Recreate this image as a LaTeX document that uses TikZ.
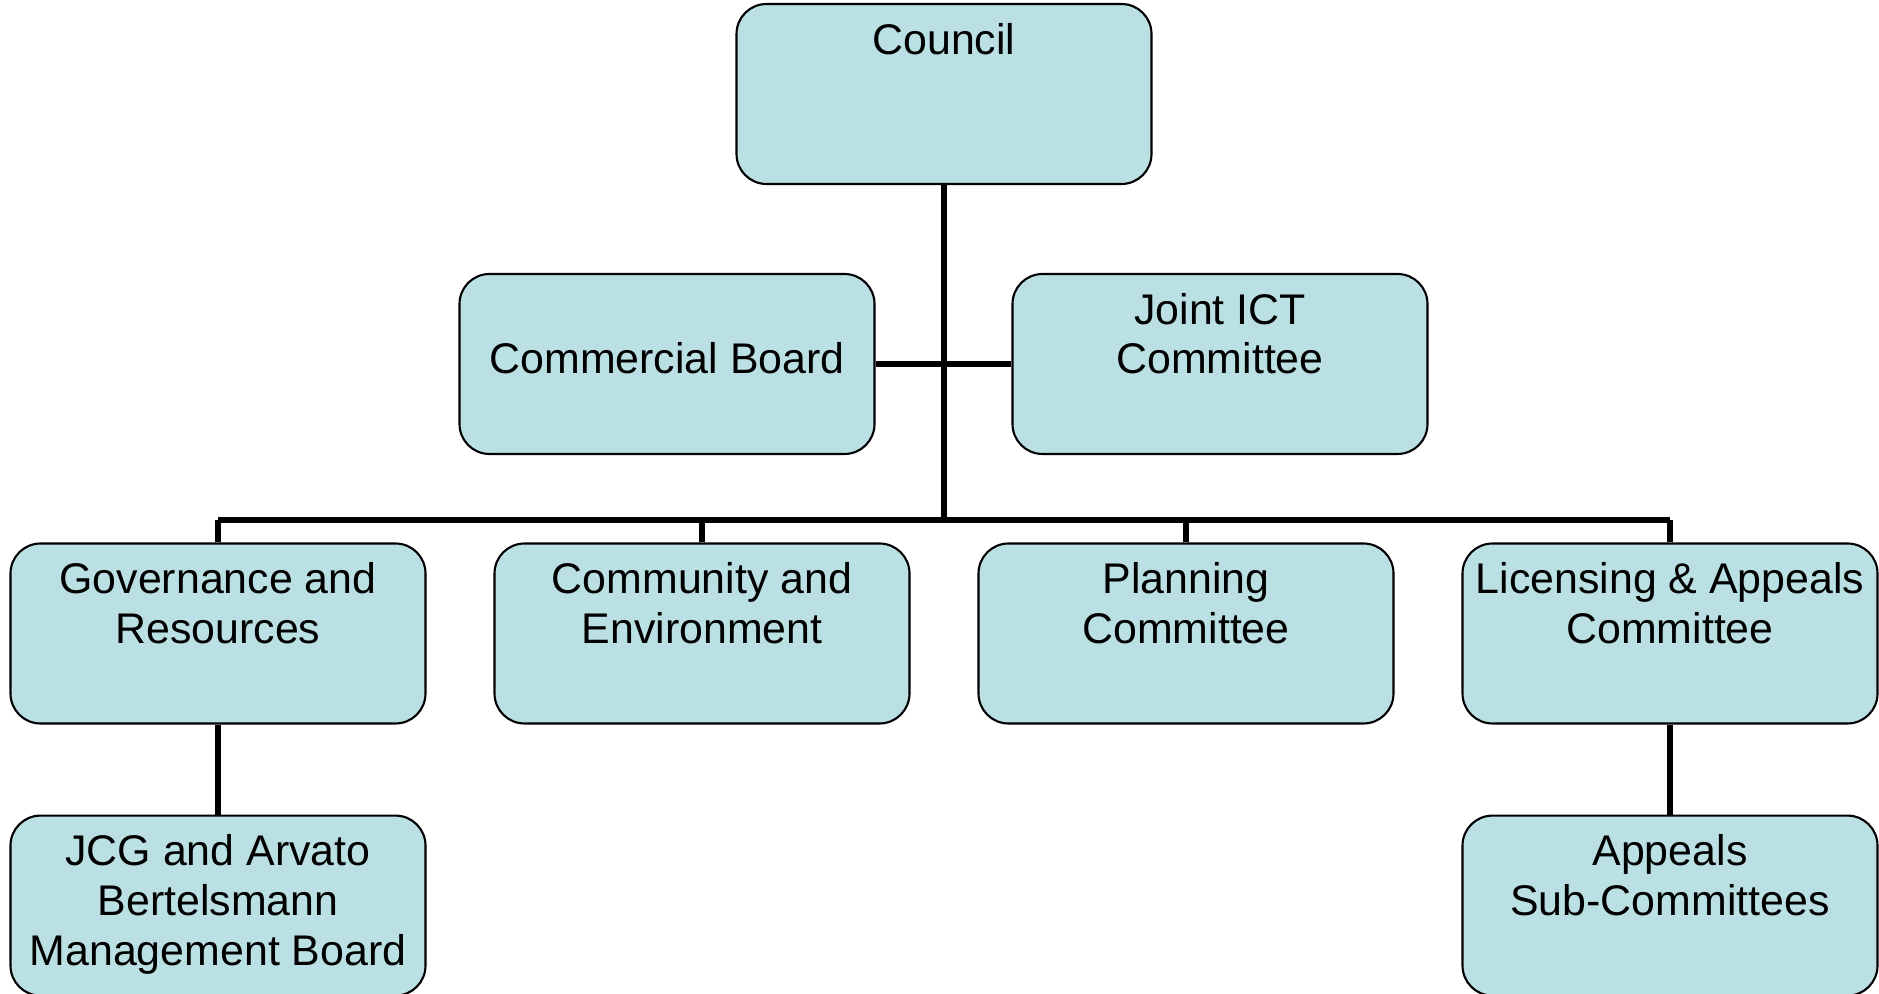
\documentclass[tikz,border=0pt]{standalone}
\usepackage{fontspec}
\setmainfont{Liberation Sans}
\usepackage{tikz}
\usetikzlibrary{positioning}
\usepackage{xcolor}

\definecolor{boxfill}{RGB}{187,224,227}
\newcommand{\toptext}[1]{\parbox[c][1.8cm][t]{4.15cm}{\centering\vspace*{0.19cm}#1}}

\tikzset{
  orgbox/.style={draw, line width=0.6pt, rounded corners=0.3cm, fill=boxfill,
    minimum width=4.15cm, minimum height=1.8cm, inner sep=0pt, align=center,
    font=\fontsize{12.2}{14.2}\selectfont},
  link/.style={line width=1.5pt}
}

\begin{document}
\begin{tikzpicture}[node distance=0.9cm]
  \useasboundingbox (0,0) rectangle (18.79,-9.94);
  % top of the tree
  \node (council) [orgbox] at (9.44,-0.94) {\toptext{Council}};
  \node (commercial) [orgbox] at (6.67,-3.64) {\raisebox{0.12cm}{Commercial Board}};
  \node (jointict) [orgbox] at (12.20,-3.64) {\toptext{Joint ICT\\Committee}};
  % committees
  \node (gov) [orgbox] at (2.18,-6.335) {\toptext{Governance and\\Resources}};
  \node (comm) [orgbox] at (7.02,-6.335) {\toptext{Community and\\Environment}};
  \node (plan) [orgbox] at (11.86,-6.335) {\toptext{Planning\\Committee}};
  \node (lic) [orgbox] at (16.70,-6.335) {\toptext{Licensing \& Appeals\\Committee}};
  % sub boards
  \node (jcg) [orgbox, below=of gov] {\toptext{JCG and Arvato\\Bertelsmann\\Management Board}};
  \node (appeals) [orgbox, below=of lic] {\toptext{Appeals\\Sub-Committees}};

  \coordinate (bus) at (9.44,-5.20);
  \draw[link] (council.south) -- (bus);
  \draw[link] (commercial.east) -- (jointict.west);
  \draw[link] (gov.north |- bus) -- (lic.north |- bus);
  \foreach \n in {gov,comm,plan,lic}
    \draw[link] (\n.north) -- (\n.north |- bus);
  \draw[link] (gov.south) -- (jcg.north);
  \draw[link] (lic.south) -- (appeals.north);
\end{tikzpicture}
\end{document}
